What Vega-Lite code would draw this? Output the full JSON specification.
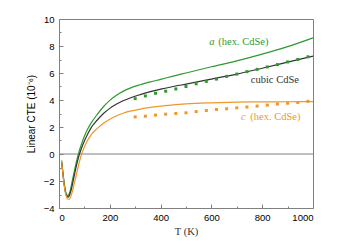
{
  "$schema": "https://vega.github.io/schema/vega-lite/v6.json",
  "width": 254,
  "height": 189,
  "autosize": "none",
  "padding": {"left": 59, "top": 19, "right": 25, "bottom": 37},
  "background": "white",
  "config": {
    "view": {"stroke": "#808080", "strokeWidth": 1},
    "style": {"guide-title": {"fontWeight": "normal"}},
    "axis": {
      "grid": false,
      "domain": false,
      "tickColor": "#808080",
      "labelFont": "Liberation Sans",
      "labelFontSize": 9.5,
      "labelColor": "#000000",
      "titleFontWeight": "normal",
      "titleColor": "#000000"
    }
  },
  "datasets": {
    "curves": [
      {"T": 10, "v": -0.5, "s": "a"}, {"T": 15, "v": -1.3, "s": "a"}, {"T": 20, "v": -2.1, "s": "a"}, {"T": 25, "v": -2.7, "s": "a"},
      {"T": 30, "v": -3.0, "s": "a"}, {"T": 35, "v": -3.08, "s": "a"}, {"T": 40, "v": -2.95, "s": "a"}, {"T": 45, "v": -2.65, "s": "a"},
      {"T": 50, "v": -2.2, "s": "a"}, {"T": 60, "v": -1.3, "s": "a"}, {"T": 70, "v": -0.45, "s": "a"}, {"T": 80, "v": 0.25, "s": "a"},
      {"T": 90, "v": 0.82, "s": "a"}, {"T": 100, "v": 1.32, "s": "a"}, {"T": 110, "v": 1.74, "s": "a"}, {"T": 125, "v": 2.25, "s": "a"},
      {"T": 150, "v": 2.92, "s": "a"}, {"T": 175, "v": 3.5, "s": "a"}, {"T": 200, "v": 3.97, "s": "a"}, {"T": 225, "v": 4.33, "s": "a"},
      {"T": 250, "v": 4.62, "s": "a"}, {"T": 280, "v": 4.88, "s": "a"}, {"T": 320, "v": 5.13, "s": "a"}, {"T": 360, "v": 5.34, "s": "a"},
      {"T": 400, "v": 5.53, "s": "a"}, {"T": 450, "v": 5.77, "s": "a"},
      {"T": 500, "v": 6.0, "s": "a"}, {"T": 600, "v": 6.46, "s": "a"}, {"T": 700, "v": 6.9, "s": "a"}, {"T": 800, "v": 7.4, "s": "a"},
      {"T": 900, "v": 7.95, "s": "a"}, {"T": 1000, "v": 8.6, "s": "a"},

      {"T": 10, "v": -0.5, "s": "cubic"}, {"T": 15, "v": -1.4, "s": "cubic"}, {"T": 20, "v": -2.2, "s": "cubic"}, {"T": 25, "v": -2.8, "s": "cubic"},
      {"T": 30, "v": -3.1, "s": "cubic"}, {"T": 35, "v": -3.2, "s": "cubic"}, {"T": 40, "v": -3.1, "s": "cubic"}, {"T": 45, "v": -2.85, "s": "cubic"},
      {"T": 50, "v": -2.5, "s": "cubic"}, {"T": 60, "v": -1.6, "s": "cubic"}, {"T": 70, "v": -0.75, "s": "cubic"}, {"T": 80, "v": -0.05, "s": "cubic"},
      {"T": 90, "v": 0.5, "s": "cubic"}, {"T": 100, "v": 0.96, "s": "cubic"}, {"T": 110, "v": 1.37, "s": "cubic"}, {"T": 125, "v": 1.9, "s": "cubic"},
      {"T": 150, "v": 2.5, "s": "cubic"}, {"T": 175, "v": 3.0, "s": "cubic"}, {"T": 200, "v": 3.38, "s": "cubic"}, {"T": 225, "v": 3.68, "s": "cubic"},
      {"T": 250, "v": 3.92, "s": "cubic"}, {"T": 280, "v": 4.15, "s": "cubic"}, {"T": 320, "v": 4.4, "s": "cubic"}, {"T": 360, "v": 4.62, "s": "cubic"},
      {"T": 400, "v": 4.8, "s": "cubic"}, {"T": 450, "v": 5.0, "s": "cubic"},
      {"T": 500, "v": 5.18, "s": "cubic"}, {"T": 600, "v": 5.55, "s": "cubic"}, {"T": 700, "v": 5.92, "s": "cubic"}, {"T": 800, "v": 6.35, "s": "cubic"},
      {"T": 900, "v": 6.8, "s": "cubic"}, {"T": 1000, "v": 7.25, "s": "cubic"},

      {"T": 10, "v": -0.5, "s": "c"}, {"T": 15, "v": -1.4, "s": "c"}, {"T": 20, "v": -2.25, "s": "c"}, {"T": 25, "v": -2.85, "s": "c"},
      {"T": 30, "v": -3.2, "s": "c"}, {"T": 35, "v": -3.35, "s": "c"}, {"T": 40, "v": -3.35, "s": "c"}, {"T": 45, "v": -3.2, "s": "c"},
      {"T": 50, "v": -2.95, "s": "c"}, {"T": 60, "v": -2.2, "s": "c"}, {"T": 70, "v": -1.4, "s": "c"}, {"T": 80, "v": -0.6, "s": "c"},
      {"T": 90, "v": 0.05, "s": "c"}, {"T": 100, "v": 0.52, "s": "c"}, {"T": 110, "v": 0.92, "s": "c"}, {"T": 125, "v": 1.38, "s": "c"},
      {"T": 150, "v": 1.88, "s": "c"}, {"T": 175, "v": 2.28, "s": "c"}, {"T": 200, "v": 2.58, "s": "c"}, {"T": 225, "v": 2.82, "s": "c"},
      {"T": 250, "v": 3.0, "s": "c"}, {"T": 280, "v": 3.17, "s": "c"}, {"T": 320, "v": 3.33, "s": "c"}, {"T": 360, "v": 3.45, "s": "c"},
      {"T": 400, "v": 3.54, "s": "c"}, {"T": 450, "v": 3.64, "s": "c"},
      {"T": 500, "v": 3.71, "s": "c"}, {"T": 600, "v": 3.79, "s": "c"}, {"T": 700, "v": 3.84, "s": "c"}, {"T": 800, "v": 3.86, "s": "c"},
      {"T": 900, "v": 3.87, "s": "c"}, {"T": 1000, "v": 3.88, "s": "c"}
    ],
    "pts": [
      {"T": 300, "v": 4.1, "s": "a"}, {"T": 340, "v": 4.3, "s": "a"}, {"T": 380, "v": 4.5, "s": "a"}, {"T": 420, "v": 4.65, "s": "a"},
      {"T": 460, "v": 4.82, "s": "a"}, {"T": 500, "v": 5.0, "s": "a"}, {"T": 540, "v": 5.2, "s": "a"}, {"T": 580, "v": 5.38, "s": "a"},
      {"T": 620, "v": 5.55, "s": "a"}, {"T": 660, "v": 5.75, "s": "a"}, {"T": 700, "v": 5.92, "s": "a"}, {"T": 740, "v": 6.1, "s": "a"},
      {"T": 780, "v": 6.27, "s": "a"}, {"T": 820, "v": 6.45, "s": "a"}, {"T": 860, "v": 6.62, "s": "a"}, {"T": 900, "v": 6.82, "s": "a"},
      {"T": 940, "v": 7.0, "s": "a"}, {"T": 980, "v": 7.2, "s": "a"},
      {"T": 300, "v": 2.75, "s": "c"}, {"T": 340, "v": 2.8, "s": "c"}, {"T": 380, "v": 2.88, "s": "c"}, {"T": 420, "v": 2.95, "s": "c"},
      {"T": 460, "v": 3.0, "s": "c"}, {"T": 500, "v": 3.05, "s": "c"}, {"T": 540, "v": 3.14, "s": "c"}, {"T": 580, "v": 3.22, "s": "c"},
      {"T": 620, "v": 3.3, "s": "c"}, {"T": 660, "v": 3.35, "s": "c"}, {"T": 700, "v": 3.42, "s": "c"}, {"T": 740, "v": 3.48, "s": "c"},
      {"T": 780, "v": 3.55, "s": "c"}, {"T": 820, "v": 3.62, "s": "c"}, {"T": 860, "v": 3.7, "s": "c"}, {"T": 900, "v": 3.76, "s": "c"},
      {"T": 940, "v": 3.82, "s": "c"}, {"T": 980, "v": 3.9, "s": "c"}
    ],
    "italic": [
      {"T": 592, "v": 8.3, "s": "a", "t": "a"},
      {"T": 717, "v": 2.74, "s": "c", "t": "c"}
    ],
    "plain": [
      {"T": 627, "v": 8.3, "s": "a", "t": "(hex. CdSe)"},
      {"T": 755, "v": 5.48, "s": "cubic", "t": "cubic CdSe"},
      {"T": 753, "v": 2.74, "s": "c", "t": "(hex. CdSe)"}
    ]
  },
  "layer": [
    {
      "data": {"values": [{"z": 0}]},
      "mark": {"type": "rule", "color": "#808080", "strokeWidth": 1},
      "encoding": {
        "y": {"field": "z", "type": "quantitative", "scale": {"domain": [-4, 10], "nice": false},
          "axis": {"orient": "left", "values": [-3, -1, 1, 3, 5, 7, 9], "labels": false, "title": null, "tickSize": -2}}
      }
    },
    {
      "data": {"name": "curves"},
      "mark": {"type": "line", "strokeWidth": 1.2, "interpolate": "monotone"},
      "encoding": {
        "x": {"field": "T", "type": "quantitative", "scale": {"domain": [0, 1000], "nice": false},
          "axis": {"orient": "bottom", "values": [100, 300, 500, 700, 900], "labels": false, "title": null, "tickSize": -2}},
        "y": {"field": "v", "type": "quantitative", "scale": {"domain": [-4, 10], "nice": false},
          "axis": {"orient": "left", "values": [-4, -2, 0, 2, 4, 6, 8, 10], "tickSize": -4, "labelPadding": 9,
            "title": "Linear CTE (10⁻⁶)", "titleFont": "Liberation Sans", "titleFontSize": 10, "titleFontWeight": "normal", "titlePadding": 7}},
        "color": {"field": "s", "type": "nominal", "legend": null,
          "scale": {"domain": ["a", "cubic", "c"], "range": ["#2e9a2e", "#333333", "#f0962a"]}},
        "detail": {"field": "s"}
      }
    },
    {
      "data": {"name": "pts"},
      "mark": {"type": "square", "size": 9, "filled": true, "opacity": 1},
      "encoding": {
        "x": {"field": "T", "type": "quantitative",
          "axis": {"orient": "bottom", "values": [0, 200, 400, 600, 800, 1000], "format": "d", "tickSize": -4, "labelPadding": 8,
            "title": "T (K)", "titleFont": "Liberation Serif", "titleFontSize": 10.5, "titleFontWeight": "normal", "titleColor": "#333333", "titlePadding": 5}},
        "y": {"field": "v", "type": "quantitative", "axis": null},
        "color": {"field": "s", "type": "nominal", "legend": null}
      }
    },
    {
      "data": {"name": "italic"},
      "mark": {"type": "text", "font": "Liberation Serif", "fontSize": 10.5, "fontStyle": "italic", "align": "left", "baseline": "middle"},
      "encoding": {
        "x": {"field": "T", "type": "quantitative", "axis": null},
        "y": {"field": "v", "type": "quantitative", "axis": null},
        "text": {"field": "t"},
        "color": {"field": "s", "type": "nominal", "legend": null}
      }
    },
    {
      "data": {"name": "plain"},
      "mark": {"type": "text", "font": "Liberation Serif", "fontSize": 10.5, "align": "left", "baseline": "middle"},
      "encoding": {
        "x": {"field": "T", "type": "quantitative", "axis": null},
        "y": {"field": "v", "type": "quantitative", "axis": null},
        "text": {"field": "t"},
        "color": {"field": "s", "type": "nominal", "legend": null}
      }
    }
  ],
  "resolve": {"axis": {"x": "independent", "y": "independent"}}
}
